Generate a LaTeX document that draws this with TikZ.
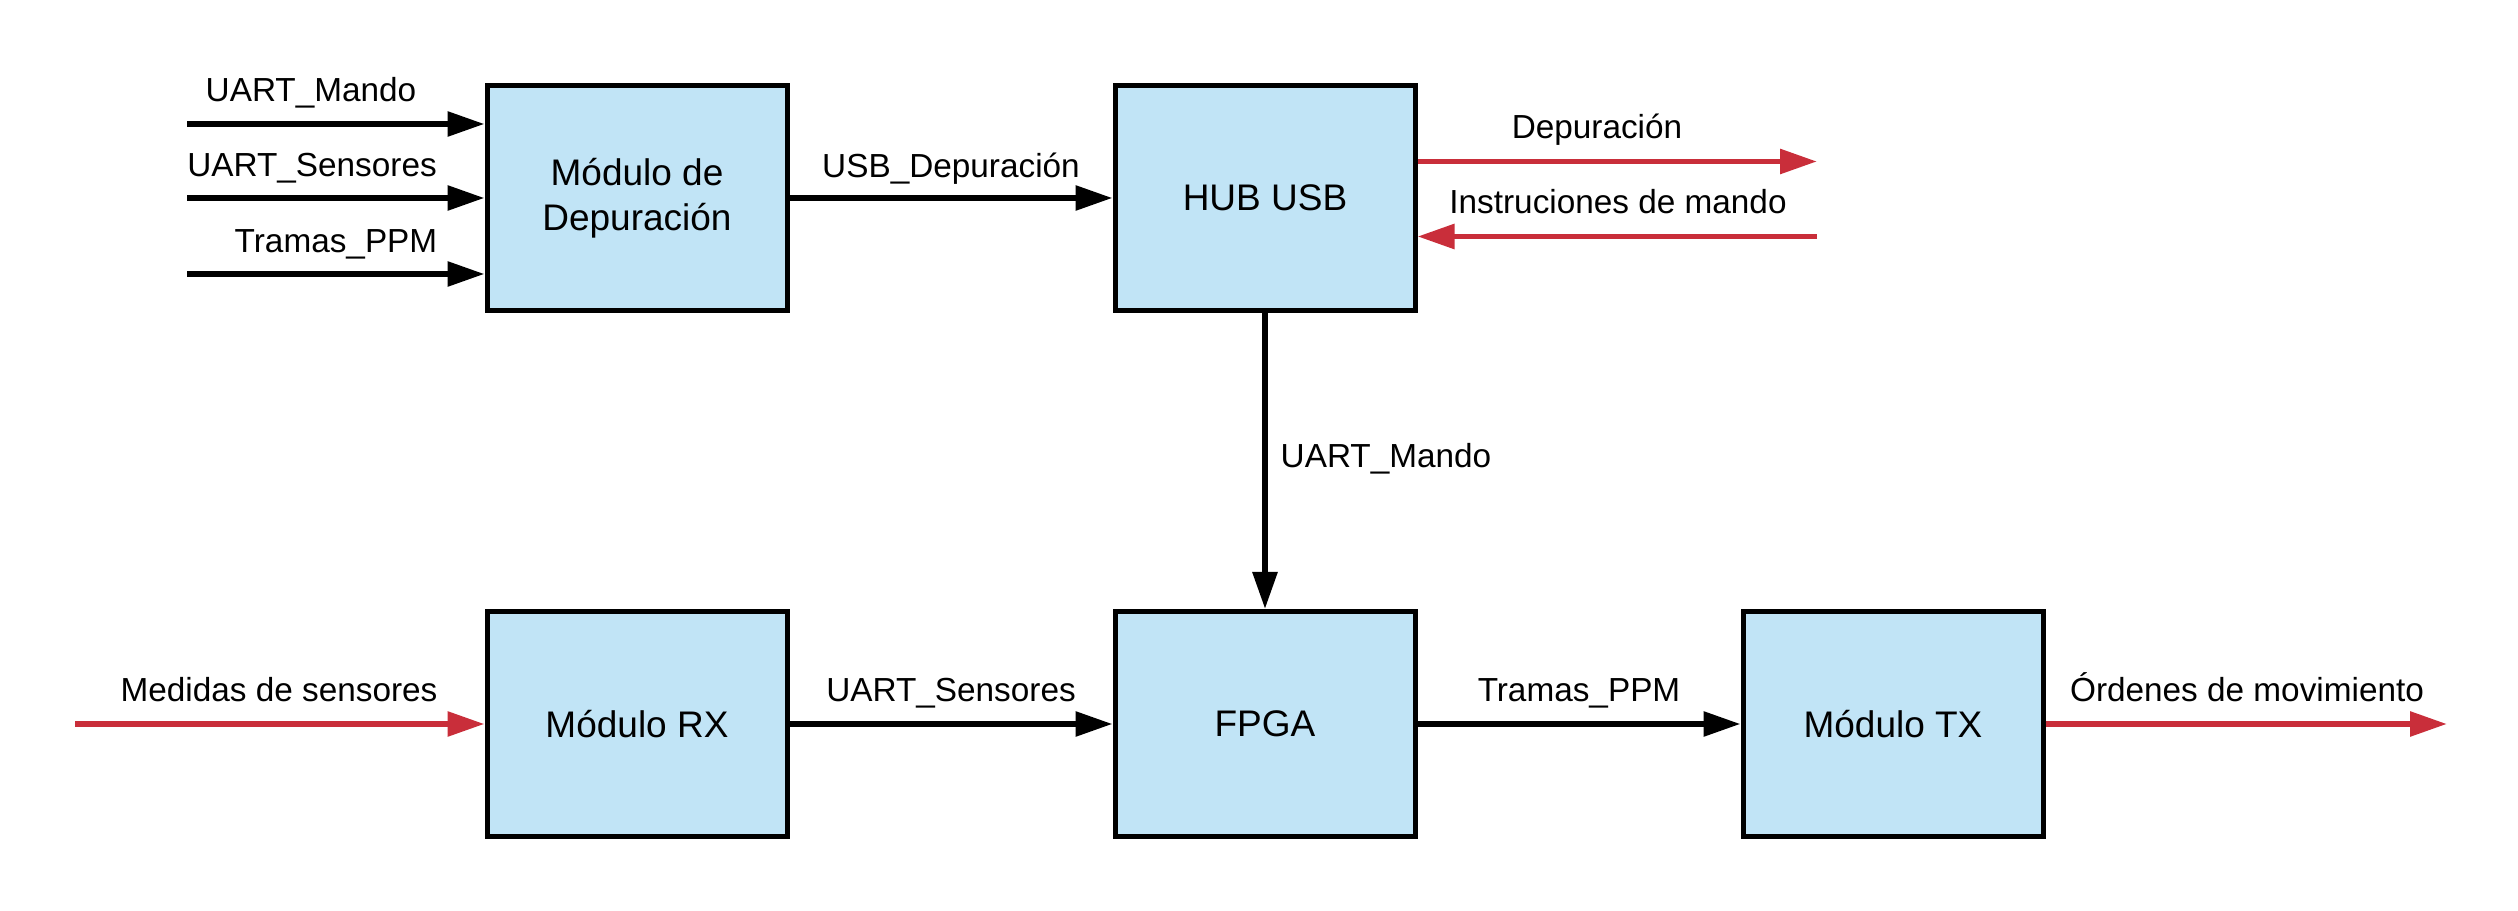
\documentclass[tikz,border=0pt]{standalone}
\usepackage{fontspec}
\setmainfont{Liberation Sans}
\usetikzlibrary{arrows.meta}
\definecolor{boxfill}{RGB}{193,228,246}
\definecolor{sigred}{RGB}{201,46,58}
\begin{document}
\begin{tikzpicture}[x=0.3pt,y=-0.3pt,
  blockbox/.style={draw=black,line width=1.5pt,fill=boxfill,minimum width=90pt,minimum height=67.5pt,inner sep=0pt,align=center,font=\fontsize{11.1}{13.5}\selectfont},
  sig/.style={line width=1.75pt,-{Triangle[length=11.1pt,width=7.2pt]}},
  redsig/.style={line width=1.75pt,draw=sigred,fill=sigred,-{Triangle[length=11.1pt,width=7.2pt]}},
  lbl/.style={anchor=base,font=\fontsize{10}{12}\selectfont,inner sep=0pt}]
\useasboundingbox (0,0) rectangle (2518,911);
% blocks
\node[blockbox] (dep) at (637,198) {Módulo de\\Depuración};
\node[blockbox] (hub) at (1265,198) {HUB USB};
\node[blockbox] (rx) at (637,724) {Módulo RX};
\node[blockbox] (fpga) at (1265,724) {FPGA};
\node[blockbox] (tx) at (1893,724) {Módulo TX};
% free ends
\coordinate (inA) at (187,124);
\coordinate (inB) at (187,198);
\coordinate (inC) at (187,274);
\coordinate (outDep) at (1817,161.5);
\coordinate (inInst) at (1817,236.5);
\coordinate (inMed) at (75,724);
\coordinate (outOrd) at (2447,724);
% connectors
\draw[sig] (inA) -- (inA -| dep.west);
\draw[sig] (inB) -- (dep.west);
\draw[sig] (inC) -- (inC -| dep.west);
\draw[sig] (dep.east) -- (hub.west);
\draw[redsig] (outDep -| hub.east) -- (outDep);
\draw[redsig] (inInst) -- (inInst -| hub.east);
\draw[sig] (hub.south) -- (fpga.north);
\draw[redsig] (inMed) -- (rx.west);
\draw[sig] (rx.east) -- (fpga.west);
\draw[sig] (fpga.east) -- (tx.west);
\draw[redsig] (tx.east) -- (outOrd);
% labels
\node[lbl] (lA) at (311,102) {UART\_Mando};
\node[lbl] (lB) at (312,177) {UART\_Sensores};
\node[lbl] (lC) at (336,253) {Tramas\_PPM};
\node[lbl] (lUSB) at (951,178) {USB\_Depuración};
\node[lbl] (lDep) at (1597,139) {Depuración};
\node[lbl] (lInst) at (1618,214) {Instruciones de mando};
\node[lbl] (lUM) at (1386,468) {UART\_Mando};
\node[lbl] (lMed) at (279,702) {Medidas de sensores};
\node[lbl] (lUS) at (951,702) {UART\_Sensores};
\node[lbl] (lTP) at (1579,702) {Tramas\_PPM};
\node[lbl] (lOrd) at (2247,702) {Órdenes de movimiento};
\end{tikzpicture}
\end{document}
